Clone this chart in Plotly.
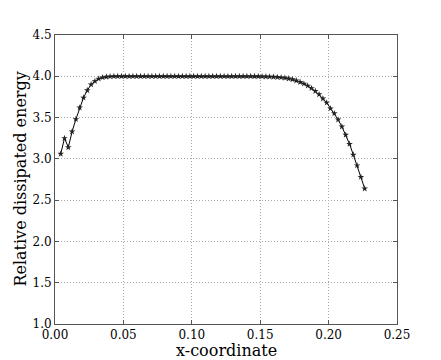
import plotly.graph_objects as go

x_coord = [
    0.004167, 0.006944, 0.009722, 0.0125, 0.015278, 0.018056, 0.020833, 0.023611, 0.026389, 0.029167,
    0.031944, 0.034722, 0.0375, 0.040278, 0.043056, 0.045833, 0.048611, 0.051389, 0.054167, 0.056944,
    0.059722, 0.0625, 0.065278, 0.068056, 0.070833, 0.073611, 0.076389, 0.079167, 0.081944, 0.084722,
    0.0875, 0.090278, 0.093056, 0.095833, 0.098611, 0.101389, 0.104167, 0.106944, 0.109722, 0.1125,
    0.115278, 0.118056, 0.120833, 0.123611, 0.126389, 0.129167, 0.131944, 0.134722, 0.1375, 0.140278,
    0.143056, 0.145833, 0.148611, 0.151389, 0.154167, 0.156944, 0.159722, 0.1625, 0.165278, 0.168056,
    0.170833, 0.173611, 0.176389, 0.179167, 0.181944, 0.184722, 0.1875, 0.190278, 0.193056, 0.195833,
    0.198611, 0.201389, 0.204167, 0.206944, 0.209722, 0.2125, 0.215278, 0.218056, 0.220833, 0.223611,
    0.226389,
]

energy = [
    3.06, 3.25, 3.14, 3.33, 3.48, 3.62, 3.74, 3.83, 3.90, 3.94,
    3.97, 3.985, 3.993, 3.997, 4.0, 4.0, 4.0, 4.0, 4.0, 4.0,
    4.0, 4.0, 4.0, 4.0, 4.0, 4.0, 4.0, 4.0, 4.0, 4.0,
    4.0, 4.0, 4.0, 4.0, 4.0, 4.0, 4.0, 4.0, 4.0, 4.0,
    4.0, 4.0, 4.0, 4.0, 4.0, 4.0, 4.0, 4.0, 4.0, 4.0,
    4.0, 3.999, 3.998, 3.997, 3.996, 3.994, 3.992, 3.989, 3.985, 3.98,
    3.972, 3.962, 3.948, 3.93, 3.91, 3.885, 3.855, 3.82, 3.78, 3.73,
    3.68, 3.61, 3.55, 3.475, 3.39, 3.29, 3.18, 3.05, 2.92, 2.78,
    2.64,
]

x_ticks = [0.0, 0.05, 0.10, 0.15, 0.20, 0.25]
x_tick_text = ["0.00", "0.05", "0.10", "0.15", "0.20", "0.25"]
y_ticks = [1.0, 1.5, 2.0, 2.5, 3.0, 3.5, 4.0, 4.5]
y_tick_text = ["1.0", "1.5", "2.0", "2.5", "3.0", "3.5", "4.0", "4.5"]

x_title = "x-coordinate"
y_title = "Relative dissipated energy"

font_family = "DejaVu Serif"

fig = go.Figure()
fig.add_trace(go.Scatter(
    x=x_coord, y=energy, mode="lines+markers",
    line=dict(color="black", width=1),
    marker=dict(symbol="star", size=5, color="#222222", line=dict(width=0)),
    showlegend=False,
))

axis_common = dict(
    showline=True, mirror="ticks", linecolor="#555555", linewidth=1,
    ticks="inside", ticklen=4, tickcolor="#555555",
    showgrid=True, gridcolor="#a8a8a8", griddash="1px,2px", gridwidth=1,
    zeroline=False,
    tickfont=dict(family=font_family, size=12, color="black"),
    ticklabelstandoff=0,
)

fig.update_layout(
    width=441, height=360,
    margin=dict(l=55, r=44, t=35, b=36, autoexpand=False),
    paper_bgcolor="white", plot_bgcolor="white",
    font=dict(family=font_family, color="black"),
    xaxis=dict(range=[0, 0.25], tickvals=x_ticks, ticktext=x_tick_text, **axis_common),
    yaxis=dict(range=[1.0, 4.5], tickvals=y_ticks, ticktext=y_tick_text, **axis_common),
    annotations=[
        dict(text=x_title, xref="paper", yref="paper", x=0.5, y=-0.093,
             xanchor="center", yanchor="middle", showarrow=False,
             font=dict(family=font_family, size=16, color="black")),
        dict(text=y_title, xref="paper", yref="paper", x=-0.102, y=0.5,
             xanchor="center", yanchor="middle", showarrow=False, textangle=-90,
             font=dict(family=font_family, size=16, color="black")),
    ],
)

fig.write_html(
    "out.html",
    config={"displayModeBar": False},
    post_script="document.body.style.margin='0';document.body.style.overflow='hidden';",
)
